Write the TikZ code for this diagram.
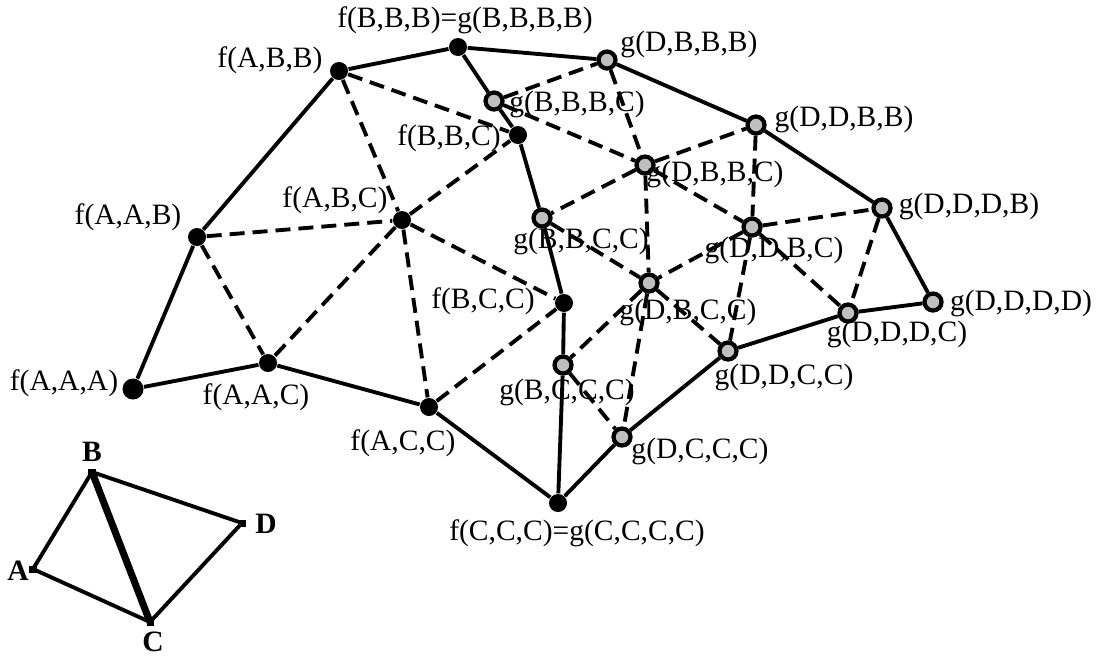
\documentclass[tikz,border=0pt]{standalone}
\usepackage{fontspec}
\setmainfont{Liberation Serif}
\usetikzlibrary{positioning}

\begin{document}
\begin{tikzpicture}[
  x=0.01cm,y=-0.01cm,
  font=\fontsize{8.4}{10}\selectfont,
  fdot/.style={circle,fill=black,inner sep=0pt,minimum size=0.18cm},
  gdot/.style={circle,draw=black,line width=1.2pt,fill=gray!50,
               inner sep=0pt,minimum size=0.17cm},
  vtx/.style={rectangle,fill=black,inner sep=0pt,minimum size=0.07cm},
  lbl/.style={inner sep=0pt},
  sline/.style={line width=1.1pt},
  dline/.style={line width=1.1pt,dash pattern=on 0.15cm off 0.08cm},
]
  \useasboundingbox (0,0) rectangle (1104,663);

  % f nodes
  \node[fdot,minimum size=0.21cm] (fAAA) at (133,389) {};
  \node[fdot] (fAAB) at (197,237) {};
  \node[fdot] (fABB) at (339,71) {};
  \node[fdot] (fBBB) at (458,47) {};
  \node[fdot] (fAAC) at (268,363) {};
  \node[fdot] (fABC) at (402,220) {};
  \node[fdot] (fBBC) at (518,135) {};
  \node[fdot] (fBCC) at (564,303) {};
  \node[fdot] (fACC) at (429,407) {};
  \node[fdot] (fCCC) at (558,503) {};

  % g nodes
  \node[gdot] (gDBBB) at (607,60) {};
  \node[gdot] (gBBBC) at (494,101) {};
  \node[gdot] (gDBBC) at (645,165) {};
  \node[gdot] (gBBCC) at (542,218) {};
  \node[gdot] (gDBCC) at (649,283) {};
  \node[gdot] (gDDBB) at (756,125) {};
  \node[gdot] (gDDDB) at (882,208) {};
  \node[gdot] (gDDBC) at (752,227) {};
  \node[gdot] (gDDDD) at (933,302) {};
  \node[gdot] (gDDDC) at (848,313) {};
  \node[gdot] (gDDCC) at (728,351) {};
  \node[gdot] (gBCCC) at (563,365) {};
  \node[gdot] (gDCCC) at (622,437) {};

  % labels
  \node[lbl] (lAAA) at (64,383) {f(A,A,A)};
  \node[lbl] (lAAB) at (128,217) {f(A,A,B)};
  \node[lbl] (lABB) at (270,60) {f(A,B,B)};
  \node[lbl] (lABC) at (335,200) {f(A,B,C)};
  \node[lbl] (lAAC) at (256,397) {f(A,A,C)};
  \node[lbl] (lACC) at (403,443) {f(A,C,C)};
  \node[lbl] (lBBB) at (465,20) {f(B,B,B)=g(B,B,B,B)};
  \node[lbl] (lDBBB) at (689,44) {g(D,B,B,B)};
  \node[lbl] (lBBBC) at (577,104) {g(B,B,B,C)};
  \node[lbl] (lBBC) at (449,138) {f(B,B,C)};
  \node[lbl] (lDBBC) at (715,174) {g(D,B,B,C)};
  \node[lbl] (lBBCC) at (581,241) {g(B,B,C,C)};
  \node[lbl] (lBCC) at (483,301) {f(B,C,C)};
  \node[lbl] (lDBCC) at (688,312) {g(D,B,C,C)};
  \node[lbl] (lDDBB) at (844,119) {g(D,D,B,B)};
  \node[lbl] (lDDDB) at (969,206) {g(D,D,D,B)};
  \node[lbl] (lDDBC) at (774,250) {g(D,D,B,C)};
  \node[lbl] (lDDDD) at (1021,303) {g(D,D,D,D)};
  \node[lbl] (lDDDC) at (897,334) {g(D,D,D,C)};
  \node[lbl] (lDDCC) at (784,377) {g(D,D,C,C)};
  \node[lbl] (lBCCC) at (567,392) {g(B,C,C,C)};
  \node[lbl] (lDCCC) at (700,451) {g(D,C,C,C)};
  \node[lbl] (lCCC) at (577,533) {f(C,C,C)=g(C,C,C,C)};

  % outer boundary and middle chain
  \draw[sline] (fAAA) -- (fAAB);
  \draw[sline] (fAAB) -- (fABB);
  \draw[sline] (fABB) -- (fBBB);
  \draw[sline] (fAAA) -- (fAAC);
  \draw[sline] (fAAC) -- (fACC);
  \draw[sline] (fACC) -- (fCCC);
  \draw[sline] (fBBB) -- (gDBBB);
  \draw[sline] (gDBBB) -- (gDDBB);
  \draw[sline] (gDDBB) -- (gDDDB);
  \draw[sline] (gDDDB) -- (gDDDD);
  \draw[sline] (gDDDD) -- (gDDDC);
  \draw[sline] (gDDDC) -- (gDDCC);
  \draw[sline] (gDDCC) -- (gDCCC);
  \draw[sline] (gDCCC) -- (fCCC);
  \draw[sline] (fBBB) -- (gBBBC);
  \draw[sline] (gBBBC) -- (fBBC);
  \draw[sline] (fBBC) -- (gBBCC);
  \draw[sline] (gBBCC) -- (fBCC);
  \draw[sline] (fBCC) -- (gBCCC);
  \draw[sline] (gBCCC) -- (fCCC);

  % f subdivision
  \draw[dline] (fAAB) -- (fABC);
  \draw[dline] (fAAB) -- (fAAC);
  \draw[dline] (fABB) -- (fABC);
  \draw[dline] (fABB) -- (fBBC);
  \draw[dline] (fABC) -- (fAAC);
  \draw[dline] (fABC) -- (fBBC);
  \draw[dline] (fABC) -- (fBCC);
  \draw[dline] (fABC) -- (fACC);
  \draw[dline] (fACC) -- (fBCC);

  % g subdivision
  \draw[dline] (gBBBC) -- (gDBBB);
  \draw[dline] (gBBBC) -- (gDBBC);
  \draw[dline] (gDBBB) -- (gDBBC);
  \draw[dline] (gDBBC) -- (gDDBB);
  \draw[dline] (gDBBC) -- (gBBCC);
  \draw[dline] (gDBBC) -- (gDDBC);
  \draw[dline] (gDBBC) -- (gDBCC);
  \draw[dline] (gDDBB) -- (gDDBC);
  \draw[dline] (gDDBC) -- (gDDDB);
  \draw[dline] (gDDDB) -- (gDDDC);
  \draw[dline] (gDDBC) -- (gDDDC);
  \draw[dline] (gDDBC) -- (gDBCC);
  \draw[dline] (gDDBC) -- (gDDCC);
  \draw[dline] (gBBCC) -- (gDBCC);
  \draw[dline] (gDBCC) -- (gDDCC);
  \draw[dline] (gDBCC) -- (gBCCC);
  \draw[dline] (gDBCC) -- (gDCCC);
  \draw[dline] (gBCCC) -- (gDCCC);

  % small tetrahedron
  \node[vtx] (A) at (33,569) {};
  \node[vtx] (B) at (92,472) {};
  \node[vtx] (C) at (150,622) {};
  \node[vtx] (D) at (242,523) {};
  \node[lbl,font=\fontsize{8.4}{10}\selectfont\bfseries] (lA) at (18,571) {A};
  \node[lbl,font=\fontsize{8.4}{10}\selectfont\bfseries] (lB) at (92,452) {B};
  \node[lbl,font=\fontsize{8.4}{10}\selectfont\bfseries] (lC) at (153,642) {C};
  \node[lbl,font=\fontsize{8.4}{10}\selectfont\bfseries] (lD) at (266,524) {D};
  \draw[sline] (A.center) -- (B.center);
  \draw[sline] (A.center) -- (C.center);
  \draw[sline] (B.center) -- (D.center);
  \draw[sline] (C.center) -- (D.center);
  \draw[line width=2pt] (B.center) -- (C.center);
\end{tikzpicture}
\end{document}
